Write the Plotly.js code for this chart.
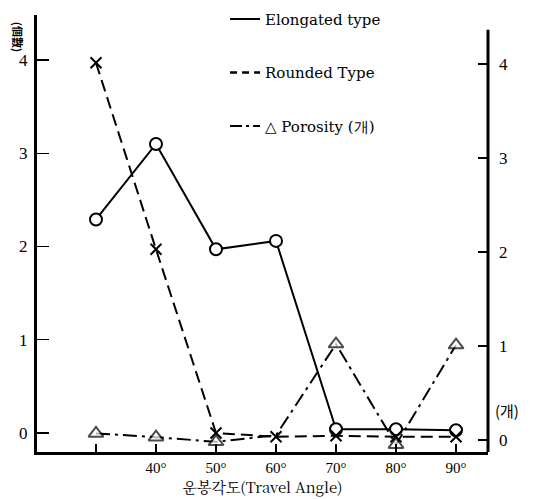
<!DOCTYPE html>
<html>
<head>
<meta charset="utf-8">
<script src="https://cdn.plot.ly/plotly-3.0.1.min.js"></script>
<style>html,body{margin:0;padding:0;background:#fff;}#chart{width:542px;height:499px;}</style>
</head>
<body>
<div id="chart"></div>
<script>
// Travel angle categories (degrees)
const angles = [30, 40, 50, 60, 70, 80, 90];
// Series values
const elongated = [2.29, 3.10, 1.97, 2.06, 0.04, 0.04, 0.03];
const rounded   = [3.97, 1.97, 0.00, -0.04, -0.03, -0.04, -0.04];
const porosity  = [0.07, 0.03, -0.02, 0.05, 1.02, -0.05, 1.01];
// Tick labels
const xTickVals = [30, 40, 50, 60, 70, 80, 90];
const xTickText = ['', '40°', '50°', '60°', '70°', '80°', '90°'];
const yTickVals = [0, 1, 2, 3, 4];
const seriesNames = ['Elongated type', 'Rounded Type', '△ Porosity (개)'];

const serif = 'Liberation Serif, DejaVu Serif, serif';
const black = '#000';

const traces = [
  {x: angles, y: elongated, yaxis: 'y', mode: 'lines+markers', showlegend: false,
   line: {color: black, width: 2},
   marker: {symbol: 'circle', size: 12, color: '#fff', line: {color: black, width: 2}}},
  {x: angles, y: rounded, yaxis: 'y', mode: 'lines+markers', showlegend: false,
   line: {color: black, width: 2, dash: '12px,6px'},
   marker: {symbol: 'x-thin-open', size: 11, color: black, line: {color: black, width: 2}}},
  {x: angles, y: porosity, yaxis: 'y2', mode: 'lines', showlegend: false,
   line: {color: black, width: 2, dash: '14px,5px,3px,5px'}},
  {x: angles, y: porosity, yaxis: 'y2', mode: 'markers', showlegend: false,
   marker: {symbol: 'triangle-up', size: [13,13,13,0,13,13,13], color: '#fff',
            line: {color: black, width: 2}}},
  // legend entries
  {x: [null], y: [null], mode: 'lines', name: seriesNames[0], legendgroup: 'a',
   line: {color: black, width: 2}},
  {x: [null], y: [null], mode: 'lines', name: seriesNames[1], legendgroup: 'b',
   line: {color: black, width: 2.5, dash: '7px,5px'}},
  {x: [null], y: [null], mode: 'lines', name: seriesNames[2], legendgroup: 'c',
   line: {color: black, width: 2, dash: '12px,4px,3px,4px'}}
];

const layout = {
  width: 542, height: 499,
  margin: {l: 37, r: 54, t: 15, b: 47, autoexpand: false},
  paper_bgcolor: '#fff', plot_bgcolor: '#fff',
  showlegend: true,
  legend: {x: 0.417, xanchor: 'left', y: 1.028, yanchor: 'top',
           font: {family: 'DejaVu Serif, serif', size: 15, color: black},
           tracegroupgap: 31, bgcolor: 'rgba(0,0,0,0)', itemwidth: 30},
  xaxis: {range: [20.17, 95.33], showgrid: false, zeroline: false,
          showline: true, linecolor: black, linewidth: 3,
          tickmode: 'array', tickvals: xTickVals, ticktext: xTickText,
          ticks: 'inside', ticklen: 8, tickwidth: 1.5, tickcolor: black,
          tickfont: {family: serif, size: 15, color: black},
          title: {text: '운봉각도(Travel Angle)', standoff: 4,
                  font: {family: 'Noto Serif CJK KR, Noto Sans CJK KR, serif', size: 15, color: black}}},
  yaxis: {range: [-0.204, 4.483], showgrid: false, zeroline: false,
          showline: true, linecolor: black, linewidth: 3,
          tickmode: 'array', tickvals: yTickVals,
          ticks: 'inside', ticklen: 12, tickwidth: 1.5, tickcolor: black,
          ticklabelstandoff: 3,
          tickfont: {family: serif, size: 17, color: black}},
  yaxis2: {overlaying: 'y', side: 'right', range: [-0.128, 4.521],
           showgrid: false, zeroline: false, showline: false,
           tickmode: 'array', tickvals: yTickVals,
           ticks: 'inside', ticklen: 10, tickwidth: 1.5, tickcolor: black,
           ticklabelstandoff: 10,
           tickfont: {family: serif, size: 17, color: black}},
  shapes: [
    {type: 'line', xref: 'paper', yref: 'paper', x0: 1, x1: 1, y0: 0, y1: 0.966,
     line: {color: black, width: 3}}
  ],
  annotations: [
    {xref: 'paper', yref: 'paper', x: -0.043, y: 0.99, xanchor: 'center', yanchor: 'top',
     text: '(個數)', textangle: 90, showarrow: false,
     font: {family: 'Noto Sans CJK KR, sans-serif', size: 11, color: black, weight: 'bold'}},
    {xref: 'paper', yref: 'paper', x: 1.01, y: 0.095, xanchor: 'left', yanchor: 'middle',
     text: '(개)', showarrow: false,
     font: {family: 'Noto Sans CJK KR, sans-serif', size: 15, color: black}}
  ]
};

Plotly.newPlot('chart', traces, layout, {displayModeBar: false, staticPlot: true});
</script>
</body>
</html>
